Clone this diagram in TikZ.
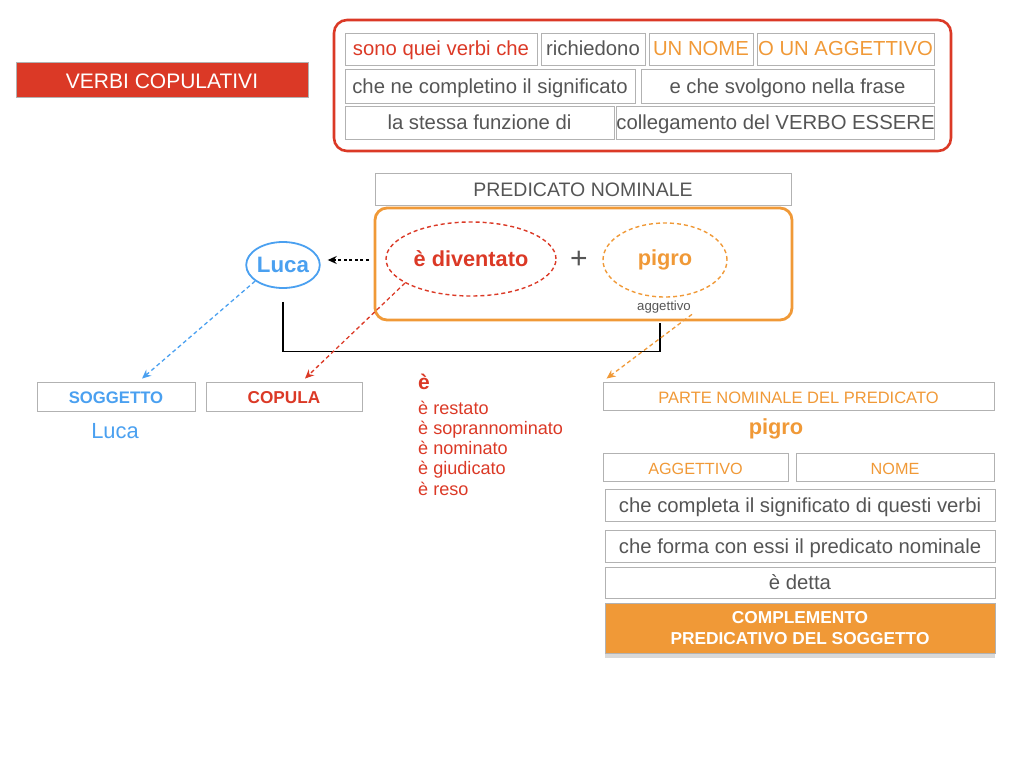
\documentclass[tikz,border=0pt]{standalone}
\usepackage{fontspec}
\setmainfont{Liberation Sans}
\usetikzlibrary{arrows.meta,shapes.geometric,shadows}
\definecolor{vred}{RGB}{219,57,38}
\definecolor{vorange}{RGB}{240,153,55}
\definecolor{vblue}{RGB}{74,160,240}
\definecolor{vgray}{RGB}{85,85,85}
\definecolor{vline}{RGB}{178,178,178}
\newcommand\vfs[1]{\fontsize{#1}{#1}\selectfont}

\begin{document}
\begin{tikzpicture}[x=1pt,y=-1pt,cell/.style={draw=vline,line width=.9pt,inner sep=0pt,text height=15pt,text depth=1pt,text=vgray,font=\vfs{20.3}},oval/.style={ellipse,dashed,line width=1.4pt,inner sep=0pt,dash pattern=on 4pt off 3pt},link/.style={-{Stealth[length=9pt,width=8pt]},line width=1.3pt,dash pattern=on 4pt off 3pt}]

\useasboundingbox (0,0) rectangle (1024,768);

\node[cell,fill=vred,text=white,minimum width=292pt,minimum height=35pt,text height=18.5pt,text depth=0pt,font=\vfs{21}] (title) at (162,79.5) {VERBI COPULATIVI};

% definizione
\node[draw=vred,line width=2.6pt,rounded corners=13pt,minimum width=617pt,minimum height=131pt] (frame) at (642.5,85.5) {};
\node[cell,minimum width=192pt,minimum height=32pt,text=vred] (d1) at (441,49) {sono quei verbi che};
\node[cell,minimum width=104pt,minimum height=32pt] (d2) at (593,49) {richiedono};
\node[cell,minimum width=104pt,minimum height=32pt,text=vorange] (d3) at (701,49) {UN NOME};
\node[cell,minimum width=177pt,minimum height=32pt,text=vorange] (d4) at (845.5,49) {O UN AGGETTIVO};
\node[cell,minimum width=290pt,minimum height=34pt] (d5) at (490,86) {che ne completino il significato};
\node[cell,minimum width=293pt,minimum height=34pt] (d6) at (787.5,86) {e che svolgono nella frase};
\node[cell,minimum width=269pt,minimum height=33pt] (d7) at (479.5,122.5) {la stessa funzione di};
\node[cell,minimum width=317pt,minimum height=33pt] (d8) at (775.5,122.5) {collegamento del VERBO ESSERE};

% predicato nominale
\node[cell,minimum width=416pt,minimum height=32pt,font=\vfs{19.5}] (pn) at (583,189) {PREDICATO NOMINALE};
\node[draw=vorange,line width=2.8pt,rounded corners=12pt,minimum width=417pt,minimum height=112pt] (predbox) at (583.5,264) {};
\node[oval,draw=vred,minimum width=170pt,minimum height=74pt,text=vred,font=\bfseries\vfs{21.7}] (div) at (471,259) {è diventato};
\node[text=vgray,font=\vfs{30}] (plus) at (579,260) {+};
\node[oval,draw=vorange,minimum width=124pt,minimum height=74pt,text=vorange,font=\bfseries\vfs{21.8}] (pigro) at (665,260) {pigro};
\node[text=vgray,inner sep=1pt,font=\vfs{13.2}] (agg) at (664,307) {aggettivo};
\node[ellipse,draw=vblue,line width=1.8pt,minimum width=66pt,minimum height=46pt,inner sep=0pt,text=vblue,font=\bfseries\vfs{22.3}] (luca) at (283,265) {Luca};

\draw[link,black,dash pattern=on 3pt off 2.5pt] ([xshift=-5pt,yshift=4pt]predbox.west) -- ([xshift=7pt,yshift=5pt]luca.east);
\draw[line width=1.6pt] ([yshift=-13pt]luca.south) |- ([xshift=-4pt,yshift=-30pt]predbox.south -| agg) -- ([xshift=-4pt,yshift=-2pt]predbox.south -| agg);

% funzioni
\node[cell,minimum width=158pt,minimum height=29pt,text=vblue,font=\bfseries\vfs{16.7}] (sogg) at (116,396.5) {SOGGETTO};
\node[cell,minimum width=156pt,minimum height=29pt,text=vred,font=\bfseries\vfs{17.2}] (cop) at (284,396.5) {COPULA};
\node[text=vblue,font=\vfs{21.9}] (luca2) at (115,431) {Luca};
\node[text=vred,font=\bfseries\vfs{21}] (e) at (424,382) {è};
\foreach \w/\y [count=\i] in {è restato/414,è soprannominato/434,è nominato/454,è giudicato/474,è reso/495}
  \node[anchor=base west,inner sep=0pt,text=vred,font=\vfs{18.1}] (v\i) at (418,\y) {\w};

% parte nominale
\node[cell,minimum width=391pt,minimum height=28pt,text=vorange,font=\vfs{16.5}] (parte) at (798.5,396) {PARTE NOMINALE DEL PREDICATO};
\node[text=vorange,font=\bfseries\vfs{21.8}] (pigro2) at (776,429) {pigro};
\node[cell,minimum width=185pt,minimum height=28pt,text=vorange,font=\vfs{16.2}] (aggbox) at (695.5,467) {AGGETTIVO};
\node[cell,minimum width=198pt,minimum height=28pt,text=vorange,font=\vfs{16.2}] (nome) at (895,467) {NOME};
\node[cell,minimum width=390pt,minimum height=32pt] (c1) at (800,505) {che completa il significato di questi verbi};
\node[cell,minimum width=390pt,minimum height=32pt] (c2) at (800,546) {che forma con essi il predicato nominale};
\node[cell,minimum width=390pt,minimum height=31pt] (c3) at (800,582.5) {è detta};
\node[fill=vorange,draw=vline,line width=.6pt,minimum width=390pt,minimum height=50pt,inner sep=0pt,align=center,text=white,font=\bfseries\vfs{17.3},drop shadow={opacity=.3,shadow xshift=0pt,shadow yshift=-5pt}] (cps) at (800,628) {COMPLEMENTO\\[4.5pt]PREDICATIVO DEL SOGGETTO};

\draw[link,vblue] (luca.210) -- ([xshift=26pt,yshift=3pt]sogg.north);
\draw[link,vred] (div.200) -- ([xshift=21pt,yshift=3pt]cop.north);
\draw[link,vorange] (agg.south east) -- ([xshift=4pt,yshift=3pt]parte.north west);
\end{tikzpicture}
\end{document}
